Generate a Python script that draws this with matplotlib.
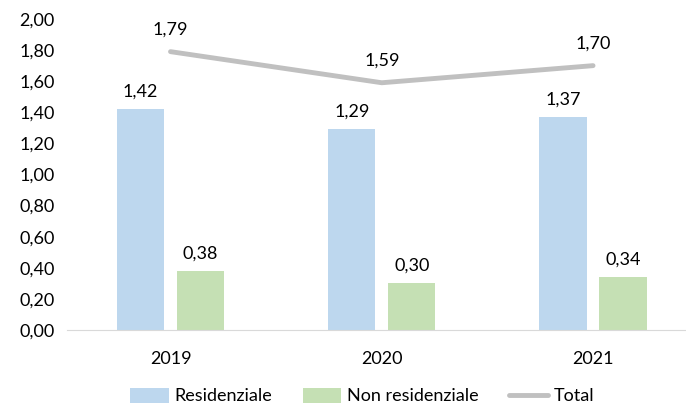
import numpy as np
import matplotlib.pyplot as plt

plt.rcParams['font.family'] = ['Lato', 'DejaVu Sans']

############## - Data - ##################
years = ['2019', '2020', '2021']
residenziale = [1.42, 1.29, 1.37]
non_residenziale = [0.38, 0.30, 0.34]
total = [1.79, 1.59, 1.70]

def fmt(v):
    return '{:.2f}'.format(v).replace('.', ',')

############## - Plot - ##################
fig = plt.figure(figsize=(6.86, 4.05), dpi=100)
ax = fig.add_axes([67 / 686, 75 / 405, 619 / 686, 311 / 405])

x = np.arange(len(years))
w = 0.223
off = 0.142
c_res = '#BDD7EE'
c_non = '#C5E0B4'
c_tot = '#C0C0C0'
fs = 13

b1 = ax.bar(x - off, residenziale, w, color=c_res, label='Residenziale')
b2 = ax.bar(x + off, non_residenziale, w, color=c_non, label='Non residenziale')
l1, = ax.plot(x, total, color=c_tot, lw=3.5, solid_capstyle='round', label='Total')

for xi, v in zip(x - off, residenziale):
    ax.annotate(fmt(v), (xi, v), xytext=(0, 7), textcoords='offset points',
                ha='center', va='bottom', fontsize=fs)
for xi, v in zip(x + off, non_residenziale):
    ax.annotate(fmt(v), (xi, v), xytext=(0, 7), textcoords='offset points',
                ha='center', va='bottom', fontsize=fs)
for xi, v in zip(x, total):
    ax.annotate(fmt(v), (xi, v), xytext=(0, 10), textcoords='offset points',
                ha='center', va='bottom', fontsize=fs)

ax.set_xlim(-0.49, 2.44)
ax.set_ylim(0, 2.0)
yt = np.arange(0, 2.01, 0.2)
ax.set_yticks(yt)
ax.set_yticklabels([fmt(v) for v in yt], fontsize=fs)
ax.set_xticks(x)
ax.set_xticklabels(years, fontsize=fs)
ax.tick_params(length=0)
ax.tick_params(axis='x', pad=15)
ax.tick_params(axis='y', pad=9)

for s in ['top', 'right', 'left']:
    ax.spines[s].set_visible(False)
ax.spines['bottom'].set_color('#D9D9D9')

fig.legend(handles=[b1, b2, l1], loc='center', bbox_to_anchor=(362 / 686, 1 - 396 / 405),
           ncol=3, frameon=False, fontsize=fs, handlelength=2.15, handleheight=0.9,
           columnspacing=1.7, handletextpad=0.3)

plt.savefig('out.png', dpi=100)
